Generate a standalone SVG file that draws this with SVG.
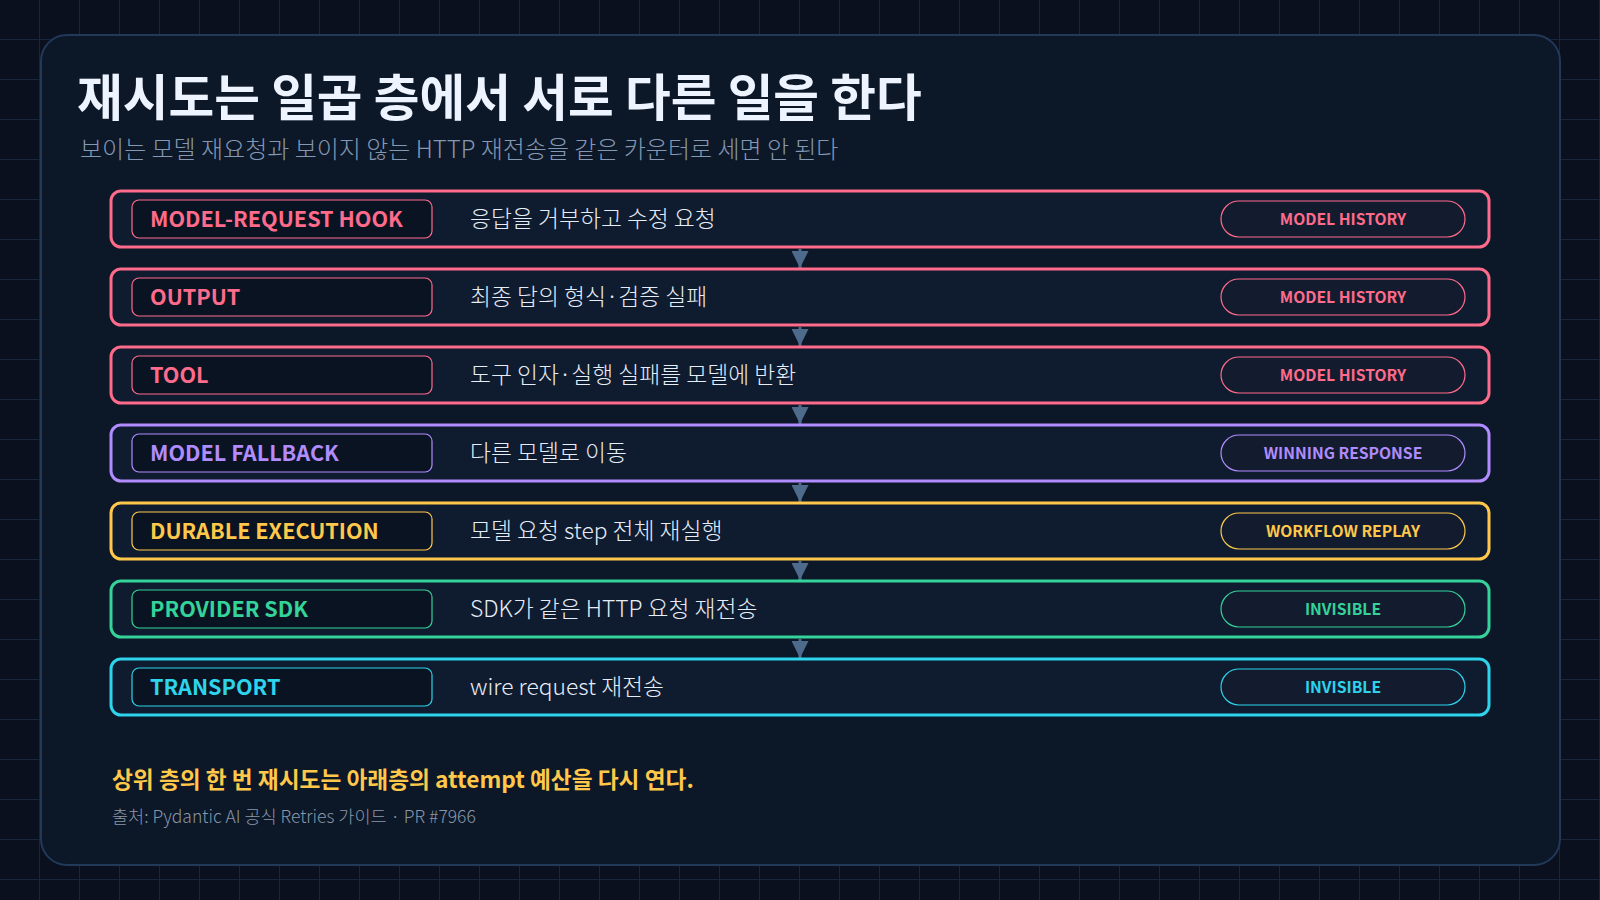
<svg xmlns="http://www.w3.org/2000/svg" width="1600" height="900" viewBox="0 0 1600 900">
<defs>
<pattern id="grid" width="40" height="40" patternUnits="userSpaceOnUse">
<path d="M40 0V40M0 40H40" fill="none" stroke="#1a2d47" stroke-width="1.5"/>
</pattern>
<marker id="ah" viewBox="0 0 10 10" refX="10" refY="5" markerWidth="17" markerHeight="17" markerUnits="userSpaceOnUse" orient="auto">
<path d="M0 0L10 5L0 10Z" fill="#4f6b8c"/>
</marker>
</defs>
<style>
text{font-family:"Noto Sans CJK KR","Noto Sans",sans-serif}
.title{font-size:49.7px;font-weight:700;fill:#eef4ff}
.sub{font-size:24px;font-weight:300;fill:#8497b3}
.row{fill:#0f1b2f;stroke-width:3}
.lbox{fill:#0a1322;stroke-width:1.2}
.pill{fill:#131c2e;stroke-width:1.2}
.lt{font-size:21.6px;font-weight:700}
.dt{font-size:22.8px;font-weight:300;fill:#e6edf7}
.pt{font-size:15.7px;font-weight:700;text-anchor:middle}
.conn{stroke:#4f6b8c;stroke-width:3;fill:none}
.pink{stroke:#ff6b8b}.pinkf{fill:#ff6b8b}
.purp{stroke:#b18cff}.purpf{fill:#b18cff}
.yel{stroke:#ffc84a}.yelf{fill:#ffc84a}
.grn{stroke:#34d399}.grnf{fill:#34d399}
.cyn{stroke:#2dd4ec}.cynf{fill:#2dd4ec}
</style>
<rect width="1600" height="900" fill="#0a101e"/>
<rect width="1600" height="900" fill="url(#grid)"/>
<rect x="41" y="35" width="1519" height="830" rx="26" fill="#0c1728" stroke="#22395a" stroke-width="2"/>
<text class="title" x="77" y="116">재시도는 일곱 층에서 서로 다른 일을 한다</text>
<text class="sub" x="80" y="158">보이는 모델 재요청과 보이지 않는 HTTP 재전송을 같은 카운터로 세면 안 된다</text>

<g id="connectors">
<line class="conn" x1="800" y1="249" x2="800" y2="268" marker-end="url(#ah)"/>
<line class="conn" x1="800" y1="327" x2="800" y2="346" marker-end="url(#ah)"/>
<line class="conn" x1="800" y1="405" x2="800" y2="424" marker-end="url(#ah)"/>
<line class="conn" x1="800" y1="483" x2="800" y2="502" marker-end="url(#ah)"/>
<line class="conn" x1="800" y1="561" x2="800" y2="580" marker-end="url(#ah)"/>
<line class="conn" x1="800" y1="639" x2="800" y2="658" marker-end="url(#ah)"/>
</g>

<g id="model-request-hook">
<rect class="row pink" x="111" y="191" width="1378" height="56" rx="10"/>
<rect class="lbox pink" x="132" y="200" width="300" height="38" rx="7"/>
<text class="lt pinkf" x="150" y="227">MODEL-REQUEST HOOK</text>
<text class="dt" x="470" y="227">응답을 거부하고 수정 요청</text>
<rect class="pill pink" x="1221" y="201" width="244" height="36" rx="18"/>
<text class="pt pinkf" x="1343" y="225">MODEL HISTORY</text>
</g>

<g id="output">
<rect class="row pink" x="111" y="269" width="1378" height="56" rx="10"/>
<rect class="lbox pink" x="132" y="278" width="300" height="38" rx="7"/>
<text class="lt pinkf" x="150" y="305">OUTPUT</text>
<text class="dt" x="470" y="305">최종 답의 형식·검증 실패</text>
<rect class="pill pink" x="1221" y="279" width="244" height="36" rx="18"/>
<text class="pt pinkf" x="1343" y="303">MODEL HISTORY</text>
</g>

<g id="tool">
<rect class="row pink" x="111" y="347" width="1378" height="56" rx="10"/>
<rect class="lbox pink" x="132" y="356" width="300" height="38" rx="7"/>
<text class="lt pinkf" x="150" y="383">TOOL</text>
<text class="dt" x="470" y="383">도구 인자·실행 실패를 모델에 반환</text>
<rect class="pill pink" x="1221" y="357" width="244" height="36" rx="18"/>
<text class="pt pinkf" x="1343" y="381">MODEL HISTORY</text>
</g>

<g id="model-fallback">
<rect class="row purp" x="111" y="425" width="1378" height="56" rx="10"/>
<rect class="lbox purp" x="132" y="434" width="300" height="38" rx="7"/>
<text class="lt purpf" x="150" y="461">MODEL FALLBACK</text>
<text class="dt" x="470" y="461">다른 모델로 이동</text>
<rect class="pill purp" x="1221" y="435" width="244" height="36" rx="18"/>
<text class="pt purpf" x="1343" y="459">WINNING RESPONSE</text>
</g>

<g id="durable-execution">
<rect class="row yel" x="111" y="503" width="1378" height="56" rx="10"/>
<rect class="lbox yel" x="132" y="512" width="300" height="38" rx="7"/>
<text class="lt yelf" x="150" y="539">DURABLE EXECUTION</text>
<text class="dt" x="470" y="539">모델 요청 step 전체 재실행</text>
<rect class="pill yel" x="1221" y="513" width="244" height="36" rx="18"/>
<text class="pt yelf" x="1343" y="537">WORKFLOW REPLAY</text>
</g>

<g id="provider-sdk">
<rect class="row grn" x="111" y="581" width="1378" height="56" rx="10"/>
<rect class="lbox grn" x="132" y="590" width="300" height="38" rx="7"/>
<text class="lt grnf" x="150" y="617">PROVIDER SDK</text>
<text class="dt" x="470" y="617">SDK가 같은 HTTP 요청 재전송</text>
<rect class="pill grn" x="1221" y="591" width="244" height="36" rx="18"/>
<text class="pt grnf" x="1343" y="615">INVISIBLE</text>
</g>

<g id="transport">
<rect class="row cyn" x="111" y="659" width="1378" height="56" rx="10"/>
<rect class="lbox cyn" x="132" y="668" width="300" height="38" rx="7"/>
<text class="lt cynf" x="150" y="695">TRANSPORT</text>
<text class="dt" x="470" y="695">wire request 재전송</text>
<rect class="pill cyn" x="1221" y="669" width="244" height="36" rx="18"/>
<text class="pt cynf" x="1343" y="693">INVISIBLE</text>
</g>

<text x="112" y="788" style="font-size:22.7px;font-weight:700;fill:#ffc84a">상위 층의 한 번 재시도는 아래층의 attempt 예산을 다시 연다.</text>
<text x="112" y="823" style="font-size:17.5px;font-weight:300;fill:#8a97aa">출처: Pydantic AI 공식 Retries 가이드 · PR #7966</text>
</svg>
